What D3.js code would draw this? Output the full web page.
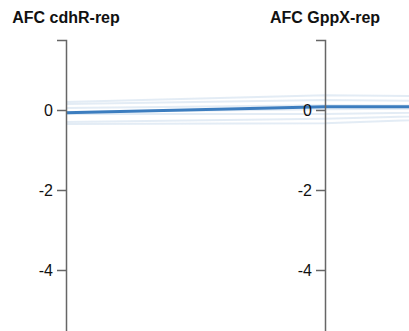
<!DOCTYPE html>
<html>
<head>
<meta charset="utf-8">
<script src="https://cdn.jsdelivr.net/npm/d3@7"></script>
<style>
  body { margin: 0; background: #fff; }
  svg { display: block; font-family: "Liberation Sans", Arial, sans-serif; }
  .title { font-weight: bold; font-size: 16px; fill: #111; }
  .axis text { font-size: 16px; fill: #111; }
  .axis path, .axis line { stroke: #666; stroke-width: 1.5px; }
</style>
</head>
<body>
<svg width="409" height="331"></svg>
<script>
// dimensions (the third one sits outside the view, to the right)
const dims = ['AFC cdhR-rep', 'AFC GppX-rep', 'AFC PqsA-rep'];

// individual replicates, one value per dimension
const reps = [
  [0.20, 0.37, 0.30],
  [0.15, 0.25, 0.20],
  [0.05, 0.12, 0.10],
  [-0.05, 0.02, 0.05],
  [-0.10, -0.10, 0.00],
  [-0.30, -0.22, -0.05],
  [-0.35, -0.33, -0.10]
];

// mean profile
const meanVals = [-0.07, 0.08, 0.08];

const tickVals = [0, -2, -4];

var svg = d3.select('svg');
const g = svg.append('g');

const x = d3.scalePoint().domain(dims).range([66, 584]);
const y = d3.scaleLinear().domain([-6, 1.75]).range([350, 40]);

const line = d3.line()
  .x((d, i) => x(dims[i]))
  .y((d) => y(d));

// faint replicate lines
g.selectAll('.rep')
  .data(reps)
  .enter()
  .append('path')
  .attr('class', 'rep')
  .attr('d', line)
  .style('fill', 'none')
  .style('stroke', '#b9cfe6')
  .style('stroke-opacity', 0.4)
  .style('stroke-width', 2);

// mean line
g.append('path')
  .datum(meanVals)
  .attr('d', line)
  .style('fill', 'none')
  .style('stroke', '#3c7dbf')
  .style('stroke-width', 3);

// axes, only the ones inside the view
dims.filter((dim) => x(dim) < 409).forEach((dim) => {
  const ax = g.append('g')
    .attr('class', 'axis')
    .attr('transform', `translate(${x(dim)},0)`)
    .call(d3.axisLeft(y).tickValues(tickVals).tickFormat((d) => String(d)).tickSize(9).tickPadding(4));

  ax.append('text')
    .attr('class', 'title')
    .attr('x', 0)
    .attr('y', 23)
    .attr('text-anchor', 'middle')
    .text(dim);
});
</script>
</body>
</html>
